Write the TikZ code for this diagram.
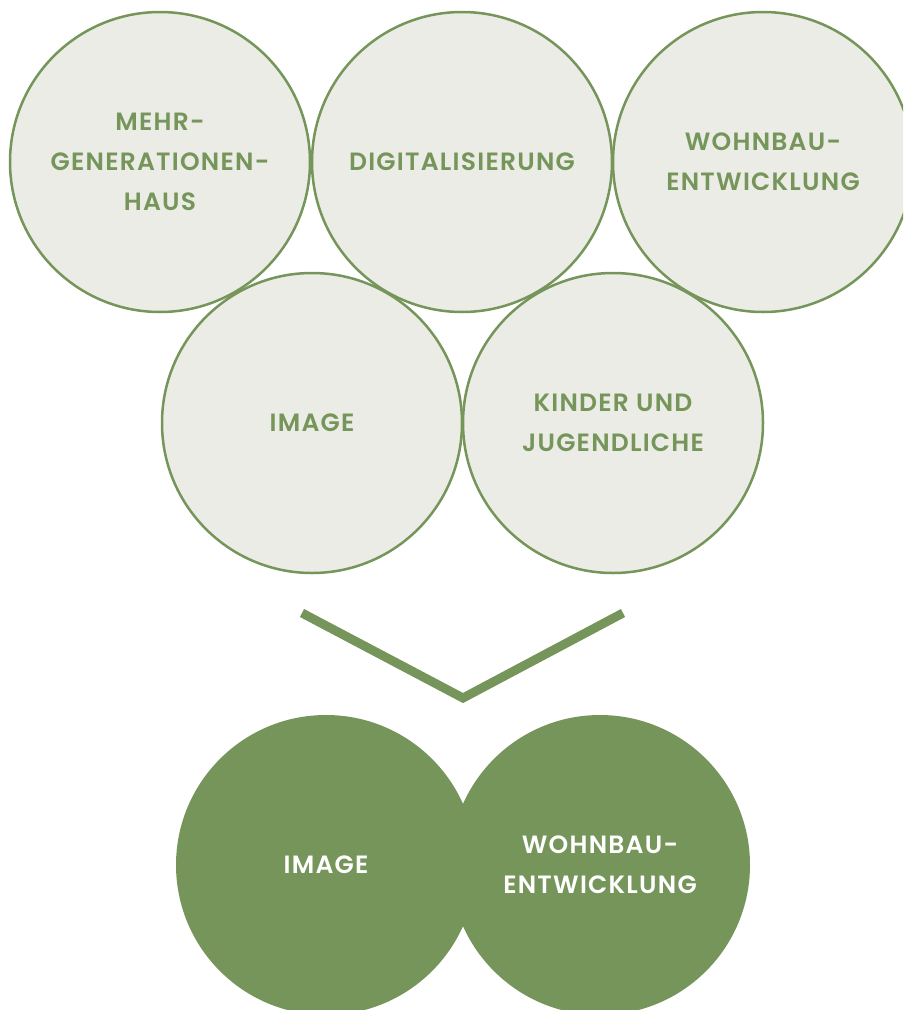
\documentclass[tikz,border=0pt]{standalone}
\usepackage{fontspec}
\setmainfont{Poppins}[UprightFont=* SemiBold,LetterSpace=5]
\definecolor{grn}{RGB}{118,149,90}
\definecolor{pale}{RGB}{235,236,229}
\begin{document}
\begin{tikzpicture}[x=1pt,y=-1pt,
  bubble/.style={circle,draw=grn,line width=2.5pt,fill=pale,minimum size=300pt,inner sep=0pt},
  solid bubble/.style={circle,fill=grn,minimum size=300pt,inner sep=0pt},
  lbl/.style={align=center,font=\fontsize{25}{40}\selectfont,text=grn},
  wlbl/.style={align=center,font=\fontsize{25}{40}\selectfont,text=white}]
\useasboundingbox (0,0) rectangle (903,1010);
\begin{scope}
\clip (0,0) rectangle (903,1010);
\node[bubble] (c1) at (160,162) {};
\node[bubble] (c2) at (462,162) {};
\node[bubble] (c3) at (763,162) {};
\node[bubble] (c4) at (312,423) {};
\node[bubble] (c5) at (613,423) {};
\node[solid bubble] (d1) at (326,865) {};
\node[solid bubble] (d2) at (600,865) {};
\end{scope}
\node[lbl] (t1) at (c1) {MEHR-\\GENERATIONEN-\\HAUS};
\node[lbl] (t2) at (c2) {DIGITALISIERUNG};
\node[lbl] (t3) at (c3) {WOHNBAU-\\ENTWICKLUNG};
\node[lbl] (t4) at (c4) {IMAGE};
\node[lbl] (t5) at (c5) {KINDER UND\\JUGENDLICHE};
\node[wlbl] (t6) at (d1) {IMAGE};
\node[wlbl] (t7) at (d2) {WOHNBAU-\\ENTWICKLUNG};
\coordinate (vl) at (302,613);
\coordinate (vm) at (463,698);
\coordinate (vr) at (623,613);
\draw[grn,line width=9pt,line join=miter] (vl) -- (vm) -- (vr);
\end{tikzpicture}
\end{document}
